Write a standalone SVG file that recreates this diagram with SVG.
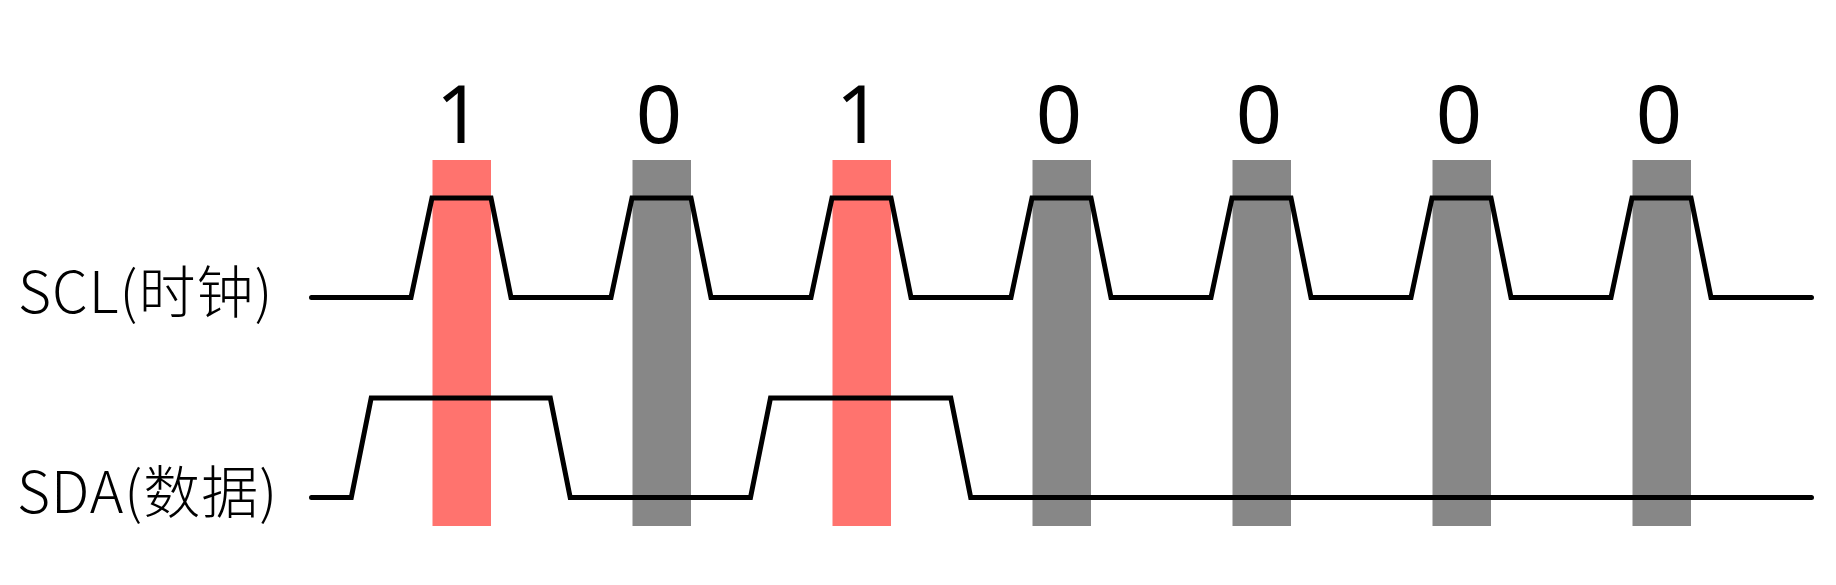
<svg xmlns="http://www.w3.org/2000/svg" width="1836" height="585" viewBox="0 0 1836 585">
<style>
.bar1{fill:#FF736E}
.bar0{fill:#878787}
.wave{fill:none;stroke:#000;stroke-width:5;stroke-linecap:round;stroke-linejoin:miter}
.bit{font-family:"Noto Sans","Open Sans",sans-serif;font-size:81px;fill:#000;text-anchor:middle}
.lbl{font-family:"Noto Sans CJK SC","Noto Sans",sans-serif;font-weight:200;font-size:57px;letter-spacing:1px;fill:#000}
</style>
<rect width="1836" height="585" fill="#fff"/>
<g id="bars">
<rect class="bar1" x="432.5" y="160" width="58.5" height="366"/>
<rect class="bar0" x="632.5" y="160" width="58.5" height="366"/>
<rect class="bar1" x="832.5" y="160" width="58.5" height="366"/>
<rect class="bar0" x="1032.5" y="160" width="58.5" height="366"/>
<rect class="bar0" x="1232.5" y="160" width="58.5" height="366"/>
<rect class="bar0" x="1432.5" y="160" width="58.5" height="366"/>
<rect class="bar0" x="1632.5" y="160" width="58.5" height="366"/>
</g>
<g id="bits">
<text class="bit" x="459" y="143.3">1</text>
<text class="bit" x="659" y="143.3">0</text>
<text class="bit" x="859" y="143.3">1</text>
<text class="bit" x="1059" y="143.3">0</text>
<text class="bit" x="1259" y="143.3">0</text>
<text class="bit" x="1459" y="143.3">0</text>
<text class="bit" x="1659" y="143.3">0</text>
</g>
<g id="scl">
<text class="lbl" x="18" y="313.3">SCL(时钟)</text>
<path class="wave" d="M311.5,297.4 H411 L432,198 H491 L511,297.4 H611 L632,198 H691 L711,297.4 H811 L832,198 H891 L911,297.4 H1011 L1032,198 H1091 L1111,297.4 H1211 L1232,198 H1291 L1311,297.4 H1411 L1432,198 H1491 L1511,297.4 H1611 L1632,198 H1691 L1711,297.4 H1811.5"/>
</g>
<g id="sda">
<text class="lbl" x="17" y="513.3">SDA(数据)</text>
<path class="wave" d="M311.5,497.6 H351.3 L371.2,398.1 H550.3 L570.2,497.6 H750.5 L770.5,398.1 H950.8 L970.7,497.6 H1811.5"/>
</g>
</svg>
